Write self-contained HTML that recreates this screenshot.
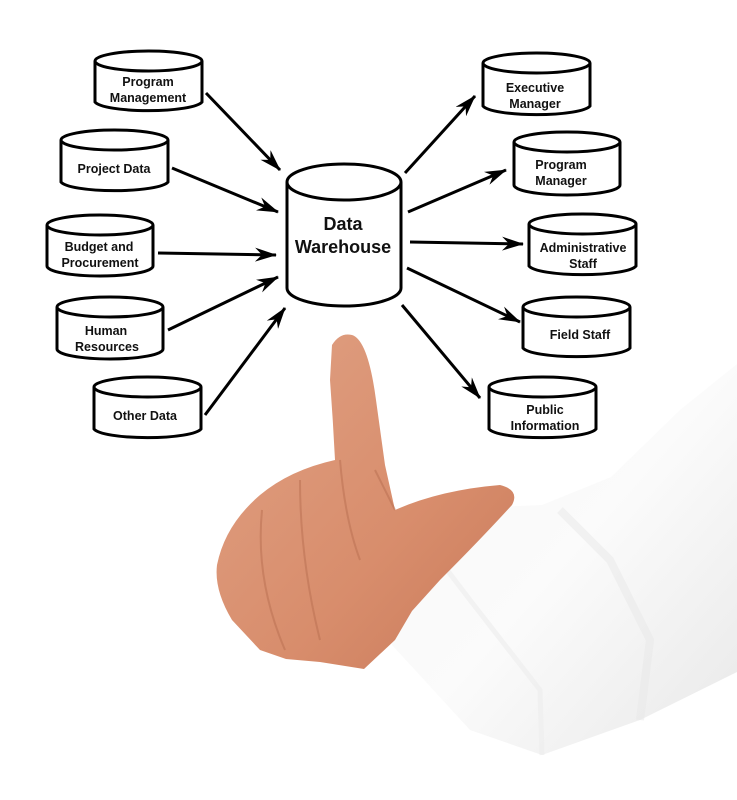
<!DOCTYPE html>
<html><head><meta charset="utf-8"><style>
html,body{margin:0;padding:0;background:#fff}
svg{display:block}
text{font-family:"Liberation Sans",Arial,sans-serif;font-weight:bold;fill:#111;text-anchor:middle}
</style></head><body>
<svg width="737" height="800" viewBox="0 0 737 800" xmlns="http://www.w3.org/2000/svg">
<defs>
<marker id="ah" markerWidth="22" markerHeight="14" refX="21" refY="7" orient="auto" markerUnits="userSpaceOnUse" viewBox="0 0 22 14">
<path d="M0,0 L22,7 L0,14 L7,7 Z" fill="#000"/></marker>
<linearGradient id="sl" x1="0" y1="0" x2="1" y2="1">
<stop offset="0" stop-color="#f6f6f6"/><stop offset="0.5" stop-color="#fbfbfb"/><stop offset="1" stop-color="#e8e8e8"/></linearGradient>
<linearGradient id="sk" x1="0" y1="0" x2="1" y2="1">
<stop offset="0" stop-color="#e0a184"/><stop offset="0.6" stop-color="#d88d6c"/><stop offset="1" stop-color="#c97a5a"/></linearGradient>
</defs>

<!-- sleeve -->
<path d="M392,645 L409,511 L542,505 L611,477 L680,410 L737,364 L737,672 L640,720 L542,755 L470,730 Z" fill="url(#sl)"/>
<path d="M409,520 L470,600 L540,690 L542,755" fill="none" stroke="#ececec" stroke-width="5" opacity="0.6"/>
<path d="M560,510 L610,560 L650,640 L640,720" fill="none" stroke="#e8e8e8" stroke-width="8" opacity="0.5"/>

<!-- hand -->
<path d="M332,345 Q340,332 352,335 Q368,340 376,400 L385,465 L395,510 Q440,490 500,485 Q520,490 512,505 Q480,540 440,580 L412,611 L395,640 L364,669 L320,662 L286,659 L260,650 L232,620 Q214,590 217,565 Q225,525 260,495 Q290,470 335,460 Q333,420 330,380 Z" fill="url(#sk)"/>
<path d="M340,460 Q345,520 360,560 M300,480 Q300,560 320,640 M262,510 Q255,580 285,650" fill="none" stroke="#b86e50" stroke-width="2" opacity="0.5"/>
<path d="M375,470 L395,510" stroke="#b86e50" stroke-width="2" opacity="0.5"/>

<!-- arrows -->
<g stroke="#000" stroke-width="3" fill="none" marker-end="url(#ah)">
<line x1="206" y1="93" x2="280" y2="170"/>
<line x1="172" y1="168" x2="278" y2="212"/>
<line x1="158" y1="253" x2="276" y2="255"/>
<line x1="168" y1="330" x2="278" y2="277"/>
<line x1="205" y1="415" x2="285" y2="308"/>
<line x1="405" y1="173" x2="475" y2="96"/>
<line x1="408" y1="212" x2="506" y2="170"/>
<line x1="410" y1="242" x2="523" y2="244"/>
<line x1="407" y1="268" x2="520" y2="322"/>
<line x1="402" y1="305" x2="480" y2="398"/>
</g>

<!-- cylinders -->
<g stroke="#000" stroke-width="3" fill="#fff">
<path d="M95,61 L95,102 A54,10 0 0 0 202,102 L202,61"/><ellipse cx="148.5" cy="61" rx="53.5" ry="10"/>
<path d="M61,140 L61,182 A54,10 0 0 0 168,182 L168,140"/><ellipse cx="114.5" cy="140" rx="53.5" ry="10"/>
<path d="M47,225 L47,266 A53,10 0 0 0 153,266 L153,225"/><ellipse cx="100" cy="225" rx="53" ry="10"/>
<path d="M57,307 L57,349 A53,10 0 0 0 163,349 L163,307"/><ellipse cx="110" cy="307" rx="53" ry="10"/>
<path d="M94,387 L94,429 A54,10 0 0 0 201,429 L201,387"/><ellipse cx="147.5" cy="387" rx="53.5" ry="10"/>
<path d="M287,182 L287,288 A57,18 0 0 0 401,288 L401,182"/><ellipse cx="344" cy="182" rx="57" ry="18"/>
<path d="M483,63 L483,106 A54,10 0 0 0 590,106 L590,63"/><ellipse cx="536.5" cy="63" rx="53.5" ry="10"/>
<path d="M514,142 L514,185 A53,10 0 0 0 620,185 L620,142"/><ellipse cx="567" cy="142" rx="53" ry="10"/>
<path d="M529,224 L529,266 A54,10 0 0 0 636,266 L636,224"/><ellipse cx="582.5" cy="224" rx="53.5" ry="10"/>
<path d="M523,307 L523,348 A54,10 0 0 0 630,348 L630,307"/><ellipse cx="576.5" cy="307" rx="53.5" ry="10"/>
<path d="M489,387 L489,429 A54,10 0 0 0 596,429 L596,387"/><ellipse cx="542.5" cy="387" rx="53.5" ry="10"/>
</g>

<g font-size="12.5">
<text x="148" y="86">Program</text><text x="148" y="102">Management</text>
<text x="114" y="173">Project Data</text>
<text x="99" y="251">Budget and</text><text x="100" y="267">Procurement</text>
<text x="106" y="335">Human</text><text x="107" y="351">Resources</text>
<text x="145" y="420">Other Data</text>
<text x="535" y="92">Executive</text><text x="535" y="108">Manager</text>
<text x="561" y="169">Program</text><text x="561" y="185">Manager</text>
<text x="583" y="252">Administrative</text><text x="583" y="268">Staff</text>
<text x="580" y="339">Field Staff</text>
<text x="545" y="414">Public</text><text x="545" y="430">Information</text>
</g>
<g font-size="18">
<text x="343" y="230">Data</text><text x="343" y="253">Warehouse</text>
</g>
</svg>
</body></html>
